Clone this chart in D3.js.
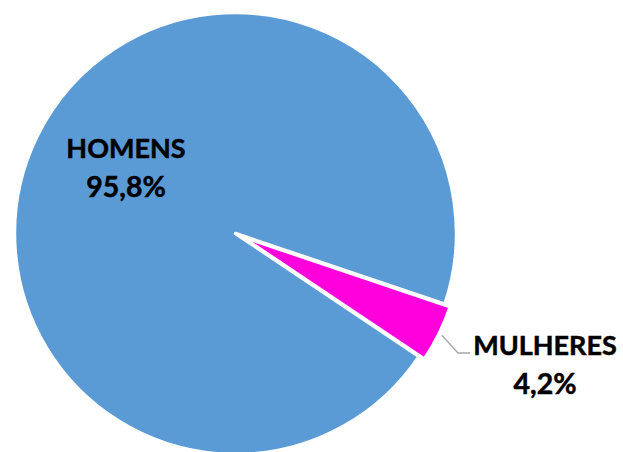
<!DOCTYPE html>
<html>
<head>
<meta charset="utf-8">
<script src="https://cdn.jsdelivr.net/npm/d3@7"></script>
<style>
  html, body { margin: 0; padding: 0; background: #fff; }
  svg { display: block; }
  .lbl { font-family: Lato, "Open Sans", sans-serif; font-weight: bold; font-size: 27px; fill: #000; stroke: #000; stroke-width: 0.5px; }
  .num { font-size: 28.5px; }
</style>
</head>
<body>
<div id="chart"></div>
<script>
  // data
  var categories = ['HOMENS', 'MULHERES'];
  var values = [95.8, 4.2];
  var valueLabels = ['95,8%', '4,2%'];
  var colors = ['#5b9bd5', '#ff00dc'];

  var width = 623, height = 452;
  var cx = 235.5, cy = 233.5, radius = 221;
  var explode = [0, 6];
  var startDeg = 123.8;

  var svg = d3.select('#chart').append('svg')
    .attr('width', width)
    .attr('height', height);

  var pie = d3.pie()
    .sort(null)
    .startAngle(startDeg * Math.PI / 180)
    .endAngle(startDeg * Math.PI / 180 + 2 * Math.PI);

  var arc = d3.arc().innerRadius(0).outerRadius(radius);

  var slices = pie(values);

  var g = svg.append('g').attr('transform', 'translate(' + cx + ',' + cy + ')');

  g.selectAll('path.slice')
    .data(slices)
    .enter()
    .append('path')
      .attr('class', 'slice')
      .attr('d', arc)
      .attr('fill', function (d, i) { return colors[i]; })
      .attr('stroke', '#fff')
      .attr('stroke-width', 3.5)
      .attr('stroke-linejoin', 'round')
      .attr('transform', function (d, i) {
        var a = (d.startAngle + d.endAngle) / 2;
        return 'translate(' + (Math.sin(a) * explode[i]) + ',' + (-Math.cos(a) * explode[i]) + ')';
      });

  // leader line for the small slice
  var small = slices[1];
  var mid = (small.startAngle + small.endAngle) / 2;
  var r0 = radius + explode[1] + 3;
  var p0 = [cx + Math.sin(mid) * r0, cy - Math.cos(mid) * r0];
  svg.append('polyline')
    .attr('points', [p0, [458, 353], [470, 353]].map(function (p) { return p.join(','); }).join(' '))
    .attr('fill', 'none')
    .attr('stroke', '#a6a6a6')
    .attr('stroke-width', 1.3);

  // labels
  var labelPos = [[126, 158], [545, 355]];
  categories.forEach(function (c, i) {
    var t = svg.append('text')
      .attr('class', 'lbl')
      .attr('text-anchor', 'middle')
      .attr('x', labelPos[i][0])
      .attr('y', labelPos[i][1]);
    t.append('tspan').attr('x', labelPos[i][0]).text(c);
    t.append('tspan').attr('class', 'num').attr('x', labelPos[i][0]).attr('dy', 39).text(valueLabels[i]);
  });
</script>
</body>
</html>
